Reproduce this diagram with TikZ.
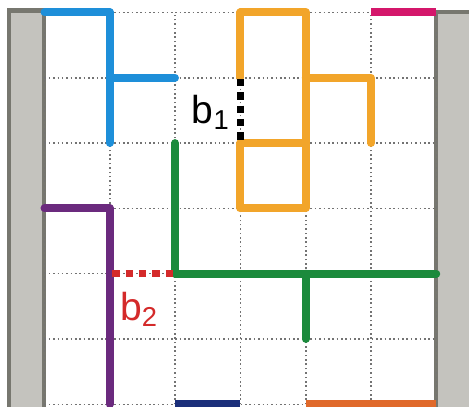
\documentclass[tikz,border=0pt]{standalone}
\usepackage{fontspec}
\setsansfont{Liberation Sans}
\usepackage{xcolor}
\usepackage{tikz}
\usetikzlibrary{positioning}

\definecolor{wallfill}{HTML}{C4C3BE}
\definecolor{wallline}{HTML}{77776F}
\definecolor{segblue}{HTML}{1E8FD9}
\definecolor{segorange}{HTML}{F2A52A}
\definecolor{seggreen}{HTML}{1B8A3C}
\definecolor{segpurple}{HTML}{6B2A7E}
\definecolor{segred}{HTML}{D42A2A}
\definecolor{segpink}{HTML}{D4176B}
\definecolor{segnavy}{HTML}{1B2F7A}
\definecolor{segrust}{HTML}{E0692A}

\begin{document}
\begin{tikzpicture}[
        wall/.style={draw=wallline, fill=wallfill, line width=1.8pt},
        gridline/.style={gray!90!black, line width=0.7pt, dash pattern=on 0.7pt off 1.2pt},
        seg/.style={line width=3.4pt, line cap=round, line join=round},
        bond/.style={line width=3.2pt, dash pattern=on 3.2pt off 2.6pt},
        lbl/.style={font=\sffamily\fontsize{17}{17}\selectfont}
    ]
        \useasboundingbox (-0.68,-0.03) rectangle (6.5,6.19);

        % walls
        \fill[white] (-0.68,-0.03) rectangle (6.5,6.19);
        \draw[wall] (-0.54,-0.2) rectangle (0,6.03);
        \draw[wall] (6,-0.2) rectangle (6.8,6);

        % dotted grid
        \foreach \i in {0,...,6} {
            \draw[gridline] (\i,0) -- (\i,6);
            \draw[gridline] (0,\i) -- (6,\i);
        }

        % blue
        \draw[seg, segblue] (0,6) -- (1,6) -- (1,4);
        \draw[seg, segblue] (1,5) -- (2,5);

        % orange
        \draw[seg, segorange] (3,5) -- (3,6) -- (4,6) -- (4,3) -- (3,3) -- (3,4) -- (4,4);
        \draw[seg, segorange] (4,5) -- (5,5) -- (5,4);

        % green
        \draw[seg, seggreen] (2,4) -- (2,2) -- (6,2);
        \draw[seg, seggreen] (4,2) -- (4,1);

        % purple
        \draw[seg, segpurple] (0,3) -- (1,3) -- (1,0);

        % edge pieces
        \draw[seg, segpink, line cap=butt] (5,6) -- (6,6);
        \draw[seg, segnavy, line cap=butt] (2,0) -- (3,0);
        \draw[seg, segrust, line cap=butt] (4,0) -- (6,0);

        % bonds
        \draw[bond, black] (3,4.98) -- (3,4.02);
        \draw[bond, segred] (1.04,2) -- (1.98,2);
        \node[lbl] (b1) at (2.55,4.47) {b\textsubscript{1}};
        \node[lbl, text=segred] (b2) at (1.45,1.45) {b\textsubscript{2}};
    \end{tikzpicture}
\end{document}
